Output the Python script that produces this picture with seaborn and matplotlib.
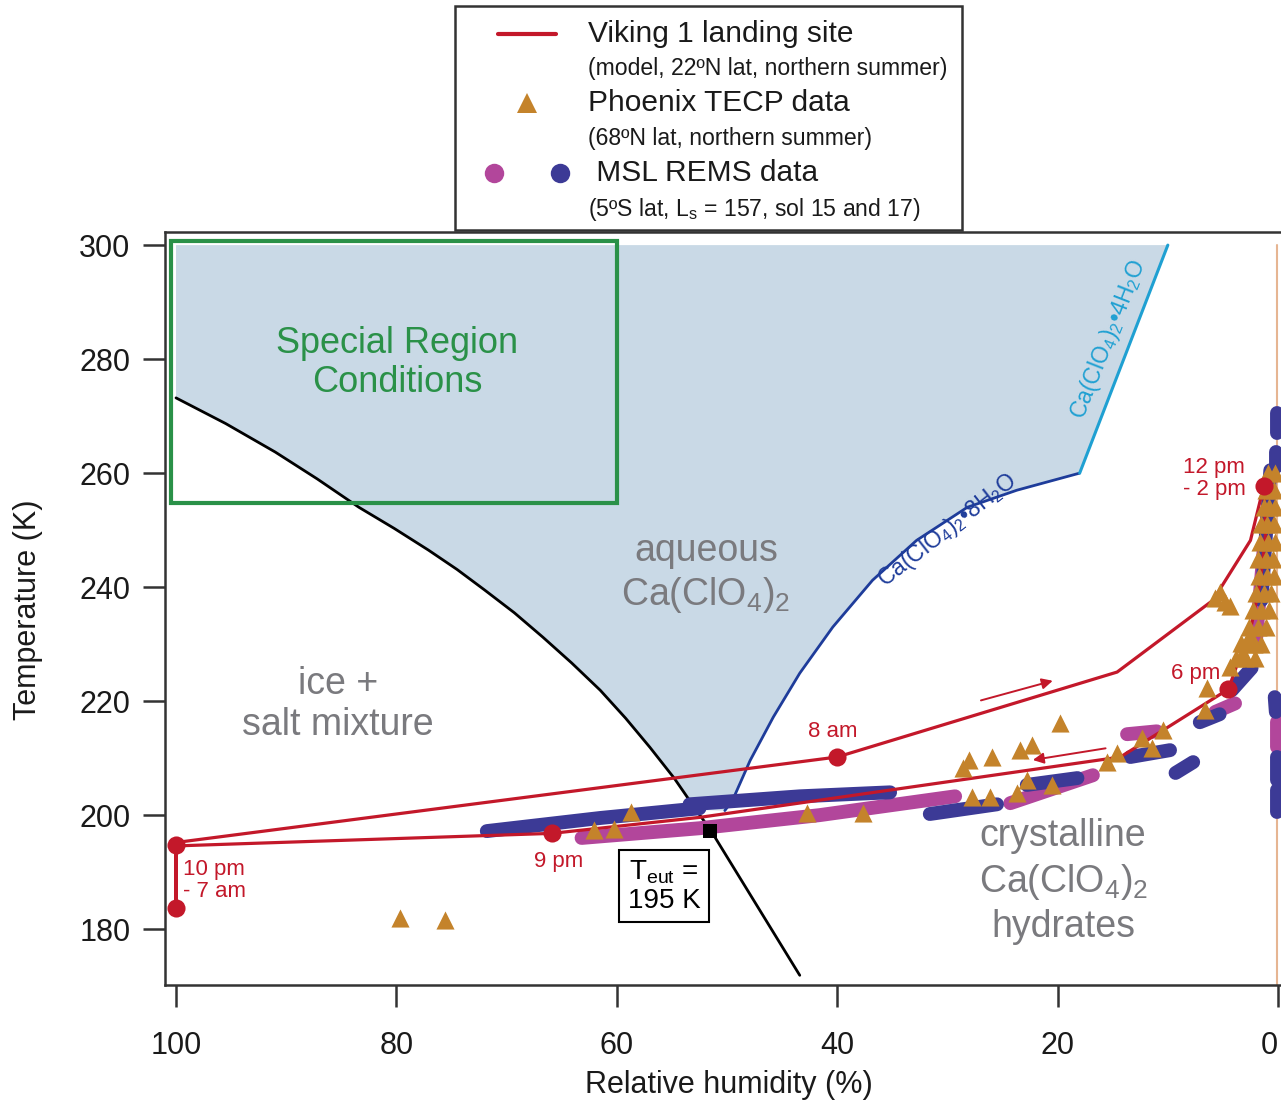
import numpy as np
import pandas as pd
import matplotlib
matplotlib.use("Agg")
import matplotlib.pyplot as plt
import seaborn as sns
from matplotlib.lines import Line2D
from matplotlib.patches import Rectangle
from matplotlib.legend_handler import HandlerTuple

# ---- data (RH in %, T in K) ----
# ice / frost point curve
ice_rh = [100.0, 95.5, 91.0, 87.2, 83.4, 80.2, 77.1, 74.5, 72.0, 69.3, 66.7, 64.1, 61.5,
          59.2, 57.0, 54.8, 52.8, 51.5, 43.4]
ice_t = [273.2, 268.7, 263.7, 259.0, 254.0, 250.3, 246.5, 243.1, 239.5, 235.5, 231.2, 226.7, 221.9,
         217.0, 211.9, 206.5, 200.9, 197.4, 171.9]

# Ca(ClO4)2*8H2O and Ca(ClO4)2*4H2O deliquescence lines
h8_rh = [50.2, 49.5, 47.9, 45.8, 43.4, 40.4, 36.8, 32.8, 28.2, 23.7, 18.0]
h8_t = [200.8, 202.6, 209.6, 217.2, 224.9, 233.0, 241.2, 248.2, 254.0, 257.0, 260.0]
h4_rh = [18.0, 10.0]
h4_t = [260.0, 300.0]

# anhydrous line near RH = 0
anhyd_rh = [0.05, 0.05]
anhyd_t = [170.2, 300.0]

# special region box
special_rh = [60.0, 100.5]
special_t = [254.7, 300.7]

# eutectic point
eut_rh = [51.5]
eut_t = [197.3]

# Viking 1 model path
viking_rh = [100, 100, 40, 14.6, 5.9, 2.5, 1.3, 1.1, 1.6, 2.5, 3.6, 4.5, 14.3, 52.5, 65.9, 100, 100]
viking_t = [183.7, 195.2, 210.2, 225.1, 237.7, 248.2, 257.7, 250.0, 241.0, 232.5, 227.0, 222.1,
            210.2, 199.6, 196.8, 194.6, 183.7]
viking_mark_rh = [100, 100, 40, 1.3, 4.5, 65.9]
viking_mark_t = [183.7, 194.8, 210.2, 257.7, 222.1, 196.8]

# Phoenix TECP
tecp_rh = [79.7, 75.6, 62.1, 60.3, 58.7, 42.7, 37.7,
           28.6, 28.0, 26.0, 23.4, 22.3, 19.8,
           27.8, 26.1, 23.7, 22.8, 20.5,
           15.5, 14.6, 12.3, 11.4, 10.4,
           6.6, 6.4, 4.4, 3.2, 2.5, 3.4,
           5.7, 4.8, 5.3, 4.4,
           0.3, 0.9, 0.4, 1.1, 0.3, 0.8, 1.3, 0.4, 1.0, 1.5, 0.3, 0.9, 1.6,
           0.5, 1.1, 1.8, 0.4, 1.0, 1.7, 0.6, 1.3, 2.0, 0.8, 1.5, 2.3,
           1.1, 1.8, 2.6, 1.5, 2.2, 2.9, 2.1, 3.0, 3.8]
tecp_t = [181.9, 181.6, 197.4, 197.5, 200.5, 200.4, 200.4,
          208.2, 209.6, 210.2, 211.4, 212.3, 216.1,
          203.2, 203.2, 203.9, 206.1, 205.3,
          209.3, 210.9, 213.5, 211.8, 214.9,
          218.4, 222.3, 226.0, 228.4, 231.6, 230.2,
          238.1, 237.4, 239.1, 236.7,
          260.0, 260.0, 257.0, 257.0, 254.0, 254.0, 254.0, 251.0, 251.0, 251.0, 248.0, 248.0, 248.0,
          245.0, 245.0, 245.0, 242.0, 242.0, 242.0, 239.0, 239.0, 239.0, 236.0, 236.0, 236.0,
          233.0, 233.0, 233.0, 230.0, 230.0, 230.0, 227.5, 227.5, 227.5]

# MSL REMS streaks (stroke id, sol, RH, T)
msl_stroke = [1, 1, 1, 2, 2, 2, 3, 3, 3, 3, 4, 4, 5, 5, 6, 6, 7, 7, 8, 8,
              9, 9, 10, 10, 11, 11, 12, 12, 13, 13, 14, 14, 15, 15, 16, 16,
              17, 17, 18, 18, 19, 19, 20, 20]
msl_sol = [17, 17, 17, 17, 17, 17, 15, 15, 15, 15, 17, 17, 15, 15, 17, 17, 15, 15, 17, 17,
           17, 17, 17, 17, 15, 15, 17, 17, 15, 15, 17, 17, 17, 17, 17, 17,
           17, 17, 15, 15, 17, 17, 17, 17]
msl_rh = [71.8, 61.5, 52.5, 53.4, 43.4, 35.2, 63.2, 52.5, 41.6, 29.3, 31.6, 25.5,
          24.3, 16.8, 22.8, 18.2, 13.7, 11.0, 13.4, 9.8, 9.3, 7.7, 7.1, 5.3,
          5.7, 3.9, 4.2, 2.4, 2.0, 1.3, 1.5, 0.7, 0.1, 0.1, 0.2, 0.2,
          0.3, 0.2, 0.1, 0.1, 0.1, 0.1, 0.1, 0.1]
msl_t = [197.2, 199.5, 201.2, 201.9, 203.3, 204.0, 196.0, 197.7, 200.0, 203.3, 200.2, 201.9,
         202.1, 207.0, 205.3, 206.5, 214.2, 214.7, 210.2, 211.4, 207.4, 209.3, 216.3, 217.7,
         218.1, 219.6, 221.9, 225.8, 230.7, 246.5, 237.7, 260.5, 270.5, 267.0, 263.7, 261.1,
         220.7, 218.1, 216.3, 211.9, 210.2, 206.1, 204.4, 200.5]

# direction arrows along the Viking path (start RH, start T, end RH, end T)
arrow_up = [27.2, 220.0, 20.2, 223.7]
arrow_down = [15.4, 211.8, 22.5, 209.6]

msl = pd.DataFrame({"stroke": msl_stroke, "sol": msl_sol, "rh": msl_rh, "t": msl_t})

# ---- style ----
RED = "#c3182a"
ORANGE = "#c4832b"
MAGENTA = "#b2469b"
NAVY = "#3c3a96"
SHADE = "#c9d9e6"
GREEN = "#2a9148"
GRAY = "#7a7a7e"
DBLUE = "#1e3c9a"
CYAN = "#1fa0d2"

sns.set_style("ticks")
plt.rcParams["font.family"] = ["Liberation Sans", "DejaVu Sans"]
plt.rcParams["mathtext.fontset"] = "custom"
plt.rcParams["mathtext.rm"] = "Liberation Sans"
plt.rcParams["mathtext.it"] = "Liberation Sans:italic"
plt.rcParams["mathtext.bf"] = "Liberation Sans:bold"

fig = plt.figure(figsize=(12.81, 11.03), dpi=100)
ax = fig.add_axes([165 / 1281, 1 - 985 / 1103, 1116 / 1281, 753 / 1103])

# aqueous region
shade_rh = [100.0] + ice_rh[:17] + h8_rh + h4_rh[1:]
shade_t = [300.0] + ice_t[:17] + h8_t + h4_t[1:]
ax.fill(shade_rh, shade_t, color=SHADE, lw=0, zorder=0.5)

sns.lineplot(x=anhyd_rh, y=anhyd_t, sort=False, estimator=None, color="#e6b592", lw=1.5, ax=ax, zorder=1)
sns.lineplot(x=ice_rh, y=ice_t, sort=False, estimator=None, color="black", lw=2, ax=ax, zorder=2)
sns.lineplot(x=h8_rh, y=h8_t, sort=False, estimator=None, color=DBLUE, lw=2, ax=ax, zorder=2)
sns.lineplot(x=h4_rh, y=h4_t, sort=False, estimator=None, color=CYAN, lw=2.2, ax=ax, zorder=2)

ax.add_patch(Rectangle((special_rh[0], special_t[0]), special_rh[1] - special_rh[0],
                       special_t[1] - special_t[0], fill=False, ec=GREEN, lw=3, zorder=2.5))

# MSL strokes
sns.lineplot(data=msl, x="rh", y="t", units="stroke", hue="sol", estimator=None, sort=False,
             palette={15: MAGENTA, 17: NAVY}, lw=10, solid_capstyle="round", legend=False,
             ax=ax, zorder=3)

# Viking path
sns.lineplot(x=viking_rh, y=viking_t, sort=False, estimator=None, color=RED, lw=2.3, ax=ax, zorder=4)

# Phoenix
sns.scatterplot(x=tecp_rh, y=tecp_t, marker="^", s=170, color=ORANGE, linewidth=0, ax=ax, zorder=5)

sns.scatterplot(x=viking_mark_rh, y=viking_mark_t, marker="o", s=170, color=RED, linewidth=0, ax=ax, zorder=6)
sns.scatterplot(x=eut_rh, y=eut_t, marker="s", s=110, color="black", linewidth=0, ax=ax, zorder=6)

for a in (arrow_up, arrow_down):
    ax.annotate("", xy=(a[2], a[3]), xytext=(a[0], a[1]),
                arrowprops=dict(arrowstyle="-|>", color=RED, lw=1.4, mutation_scale=16), zorder=6)

# ---- labels inside the plot ----
ax.text(79.9, 279.3, "Special Region\nConditions", color=GREEN, fontsize=26, ha="center",
        va="center", linespacing=1.12, zorder=7)
ax.text(51.9, 242.3, "aqueous\nCa(ClO$_4$)$_2$", color=GRAY, fontsize=27, ha="center",
        va="center", linespacing=1.2, zorder=7)
ax.text(85.3, 219.4, "ice +\nsalt mixture", color=GRAY, fontsize=27, ha="center",
        va="center", linespacing=1.2, zorder=7)
ax.text(19.5, 188.4, "crystalline\nCa(ClO$_4$)$_2$\nhydrates", color=GRAY, fontsize=27,
        ha="center", va="center", linespacing=1.25, zorder=7)
ax.text(55.7, 187.5, "T$_{\\mathregular{eut}}$ =\n195 K", color="black", fontsize=20,
        ha="center", va="center", linespacing=1.1, zorder=7,
        bbox=dict(boxstyle="square,pad=0.3", fc="white", ec="black", lw=1.5))
ax.text(30.0, 250.0, "Ca(ClO$_4$)$_2$•8H$_2$O", color=DBLUE, fontsize=16.5, rotation=38,
        ha="center", va="center", zorder=7)
ax.text(15.4, 283.5, "Ca(ClO$_4$)$_2$•4H$_2$O", color=CYAN, fontsize=16.5, rotation=68.5,
        ha="center", va="center", zorder=7)

ax.text(40.4, 214.7, "8 am", color=RED, fontsize=16, ha="center", va="center", zorder=7)
ax.text(65.3, 191.8, "9 pm", color=RED, fontsize=16, ha="center", va="center", zorder=7)
ax.text(99.4, 188.6, "10 pm\n- 7 am", color=RED, fontsize=16, ha="left", va="center",
        linespacing=1.05, zorder=7)
ax.text(7.5, 224.9, "6 pm", color=RED, fontsize=16, ha="center", va="center", zorder=7)
ax.text(8.6, 259.1, "12 pm\n- 2 pm", color=RED, fontsize=16, ha="left", va="center",
        linespacing=1.05, zorder=7)

# ---- axes ----
ax.set_xlim(101.0, -0.27)
ax.set_ylim(170.2, 302.3)
ax.set_xticks([100, 80, 60, 40, 20, 0], labels=["100", "80", "60", "40", "20", "0"])
ax.set_yticks([180, 200, 220, 240, 260, 280, 300])
ax.tick_params(axis="both", direction="out", length=16, width=1.8, color="#333333",
               labelsize=22, labelcolor="#1a1a1a")
ax.tick_params(axis="x", pad=17)
ax.tick_params(axis="y", pad=9)
# last x label sits at the right border, keep it inside the canvas
ax.get_xticklabels()[-1].set_horizontalalignment("right")
for side in ("left", "bottom", "top"):
    ax.spines[side].set_linewidth(1.8)
    ax.spines[side].set_color("#333333")
ax.spines["right"].set_visible(False)
ax.set_xlabel("Relative humidity (%)", fontsize=22, color="#1a1a1a")
ax.set_ylabel("Temperature (K)", fontsize=22, color="#1a1a1a")
ax.xaxis.set_label_coords(0.505, -0.113)
ax.yaxis.set_label_coords(-0.109, 0.498)

# ---- legend ----
handles = [
    Line2D([], [], color=RED, lw=3),
    Line2D([], [], ls="none"),
    Line2D([], [], ls="none", marker="^", color=ORANGE, ms=14, mew=0),
    Line2D([], [], ls="none"),
    (Line2D([], [], ls="none", marker="o", color=MAGENTA, ms=14, mew=0),
     Line2D([], [], ls="none", marker="o", color=NAVY, ms=14, mew=0)),
    Line2D([], [], ls="none"),
]
labels = [
    "Viking 1 landing site",
    "(model, 22ºN lat, northern summer)",
    "Phoenix TECP data",
    "(68ºN lat, northern summer)",
    " MSL REMS data",
    "(5ºS lat, L$_\\mathregular{s}$ = 157, sol 15 and 17)",
]
leg = fig.legend(handles, labels, loc="upper left", bbox_to_anchor=(498 / 1281, 1 - 20 / 1103),
                 frameon=False, fontsize=16.6, borderpad=0, borderaxespad=0,
                 handlelength=2.52, handletextpad=1.39, labelspacing=0.4,
                 handler_map={tuple: HandlerTuple(ndivide=None, pad=3.2)})
for i, txt in enumerate(leg.get_texts()):
    txt.set_color("#1a1a1a")
    if i % 2 == 0:
        txt.set_fontsize(21.5)
fig.add_artist(Rectangle((455 / 1281, 1 - 230 / 1103), 507 / 1281, 224 / 1103,
                         transform=fig.transFigure, fill=False, ec="#333333", lw=1.8))

fig.savefig("out.png", dpi=100)
